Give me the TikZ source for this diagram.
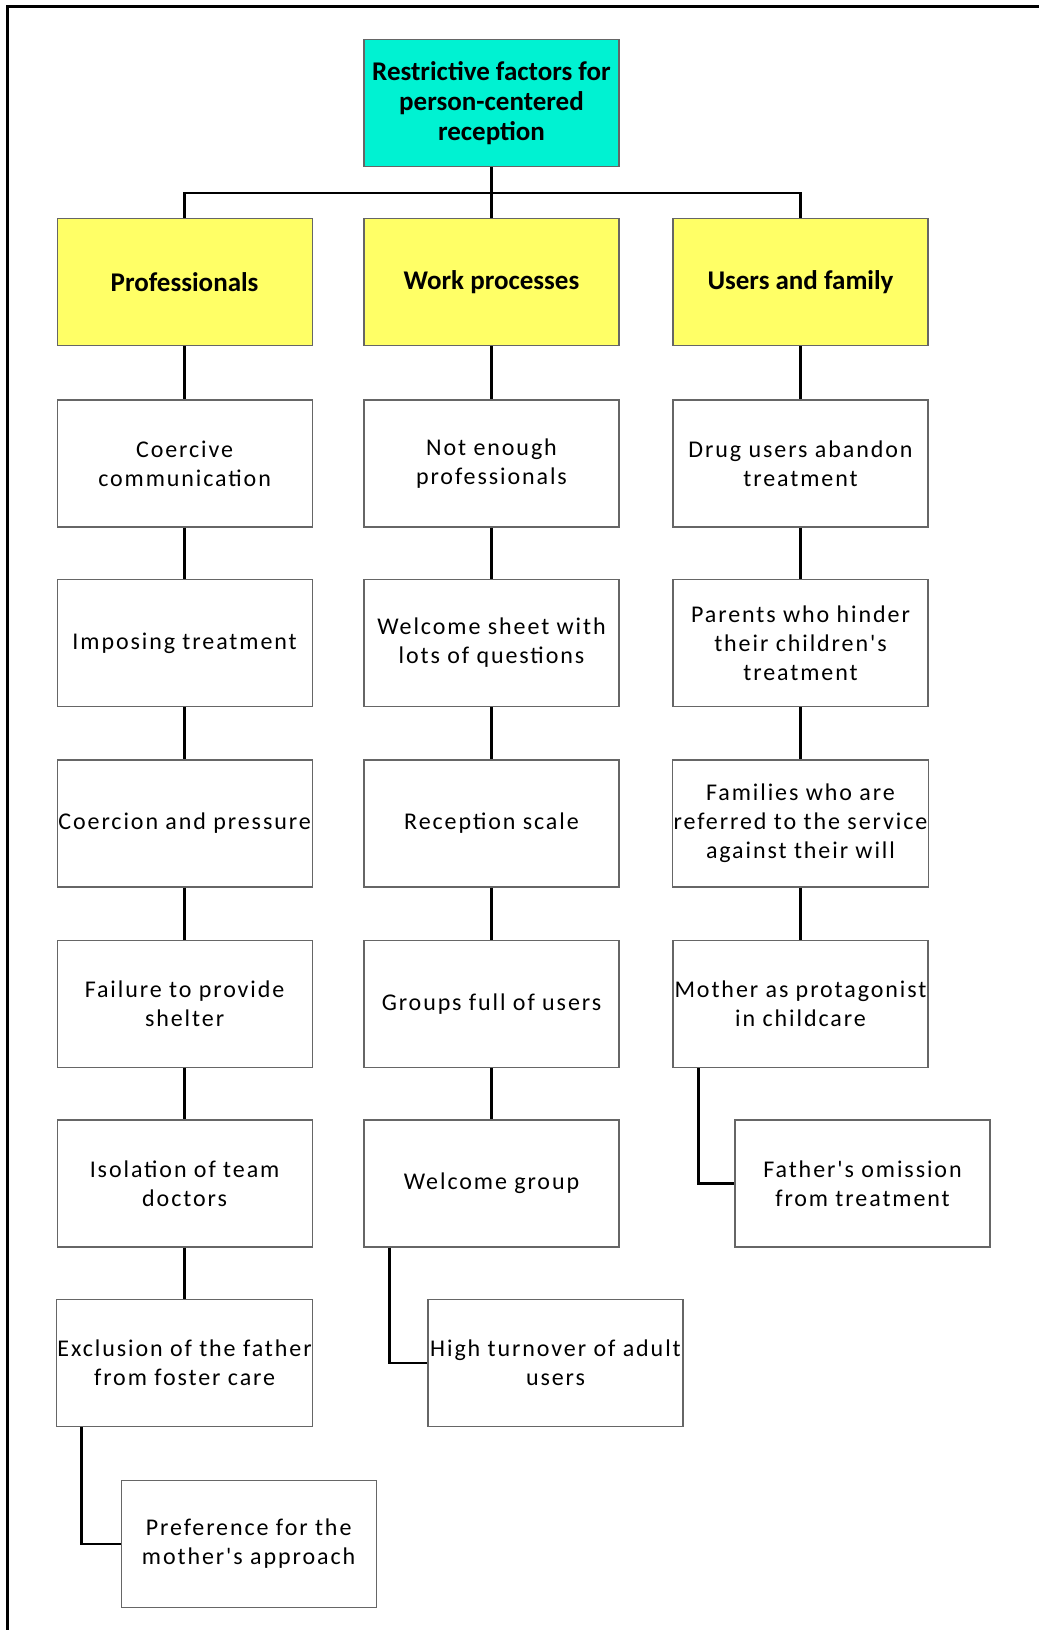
\documentclass[tikz,border=0pt]{standalone}
\usepackage{fontspec}
\setmainfont{Carlito}
\newfontfamily\bodyfont[LetterSpace=8]{Carlito}
\definecolor{rootfill}{HTML}{00F2D2}
\definecolor{yel}{HTML}{FFFF66}
\tikzset{
  box/.style={draw=black!60, line width=1.2pt, minimum width=255pt, minimum height=127pt,
    inner sep=1pt, align=center, font=\bodyfont\fontsize{24}{29}\selectfont},
  headbox/.style={box, fill=yel, font=\bfseries\fontsize{27}{30}\selectfont},
  rootbox/.style={box, fill=rootfill, font=\bfseries\fontsize{27}{30}\selectfont},
  conn/.style={line width=2.6pt, black},
  frame/.style={line width=3pt, black}
}
\begin{document}
\begin{tikzpicture}[x=1pt,y=-1pt]
\useasboundingbox (0,0) rectangle (1039,1630);
\draw[frame] (7,1630) -- (7,6) -- (1039,6);

\node[rootbox] (root) at (491.5,103) {Restrictive factors for\\person-centered\\reception};
\coordinate (bus) at (491.5,193);

\node[headbox] (pro) at (184.6,282) {Professionals};
\node[headbox] (wrk) at (491.5,282) {Work processes};
\node[headbox] (usr) at (800.5,282) {Users and family};

% column A
\node[box] (a1) at (184.6,463.5) {Coercive\\communication};
\node[box] (a2) at (184.6,643) {Imposing treatment};
\node[box] (a3) at (184.6,823.5) {Coercion and pressure};
\node[box] (a4) at (184.6,1004) {Failure to provide\\shelter};
\node[box] (a5) at (184.6,1183.5) {Isolation of team\\doctors};
\node[box] (a6) at (184.6,1363) {Exclusion of the father\\from foster care};
\node[box] (a7) at (248.6,1544) {Preference for the\\mother's approach};

% column B
\node[box] (b1) at (491.5,463.5) {Not enough\\professionals};
\node[box] (b2) at (491.5,643) {Welcome sheet with\\lots of questions};
\node[box] (b3) at (491.5,823.5) {Reception scale};
\node[box] (b4) at (491.5,1004) {Groups full of users};
\node[box] (b5) at (491.5,1183.5) {Welcome group};
\node[box] (b6) at (555.5,1363) {High turnover of adult\\users};

% column C
\node[box] (c1) at (800.5,463.5) {Drug users abandon\\treatment};
\node[box] (c2) at (800.5,643) {Parents who hinder\\their children's\\treatment};
\node[box] (c3) at (800.5,823.5) {Families who are\\referred to the service\\against their will};
\node[box] (c4) at (800.5,1004) {Mother as protagonist\\in childcare};
\node[box] (c5) at (862.5,1183.5) {Father's omission\\from treatment};

% connectors
\draw[conn] (root.south) -- (wrk.north);
\draw[conn] (pro.north) -- (pro.north |- bus) -- (usr.north |- bus) -- (usr.north);
\draw[conn] (pro) -- (a1);
\draw[conn] (a1) -- (a2);
\draw[conn] (a2) -- (a3);
\draw[conn] (a3) -- (a4);
\draw[conn] (a4) -- (a5);
\draw[conn] (a5) -- (a6);
\draw[conn] ([xshift=26pt]a6.south west) |- (a7.west);
\draw[conn] (wrk) -- (b1);
\draw[conn] (b1) -- (b2);
\draw[conn] (b2) -- (b3);
\draw[conn] (b3) -- (b4);
\draw[conn] (b4) -- (b5);
\draw[conn] ([xshift=26pt]b5.south west) |- (b6.west);
\draw[conn] (usr) -- (c1);
\draw[conn] (c1) -- (c2);
\draw[conn] (c2) -- (c3);
\draw[conn] (c3) -- (c4);
\draw[conn] ([xshift=26pt]c4.south west) |- (c5.west);
\end{tikzpicture}
\end{document}
